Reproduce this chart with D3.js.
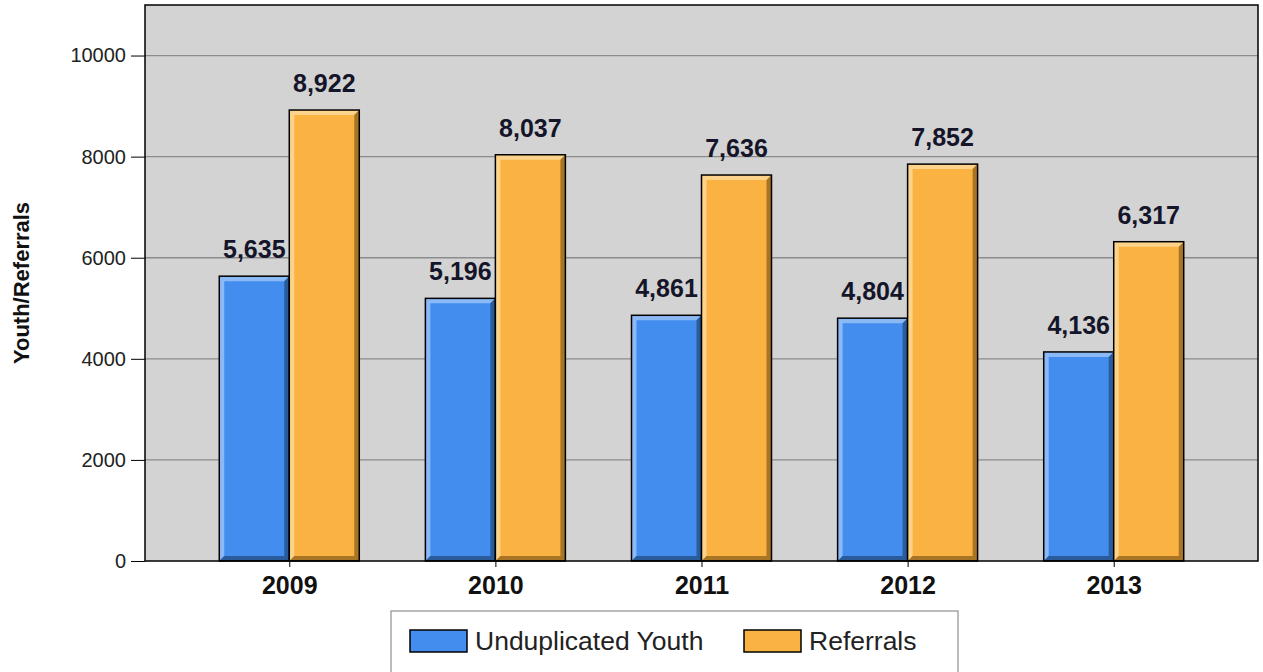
<!DOCTYPE html>
<html>
<head>
<meta charset="utf-8">
<script src="https://cdn.jsdelivr.net/npm/d3@7"></script>
<style>
  body { margin: 0; background: #fff; }
  svg { display: block; font-family: Arial, "Liberation Sans", sans-serif; }
</style>
</head>
<body>
<svg id="chart" width="1263" height="672"></svg>
<script>
const years = ["2009", "2010", "2011", "2012", "2013"];
const youth = [5635, 5196, 4861, 4804, 4136];
const referrals = [8922, 8037, 7636, 7852, 6317];
const seriesNames = ["Unduplicated Youth", "Referrals"];
const yTicks = [0, 2000, 4000, 6000, 8000, 10000];

const colors = [
  { fill: "#428ded", light: "#8ab9f5", dark: "#2a5c9c" },
  { fill: "#fab342", light: "#fdd38c", dark: "#a87426" }
];

const font = "Arial, 'Liberation Sans', sans-serif";
const svg = d3.select("#chart");
const plot = { left: 145, right: 1258, top: 5, bottom: 561 };

const x = d3.scalePoint().domain(years).range([plot.left, plot.right]).padding(0.7);
const y = d3.scaleLinear().domain([0, 11000]).range([plot.bottom, plot.top]);
const barW = 70;

// plot background
svg.append("rect")
  .attr("x", plot.left).attr("y", plot.top)
  .attr("width", plot.right - plot.left).attr("height", plot.bottom - plot.top)
  .attr("fill", "#d3d3d3");

// gridlines
svg.append("g").selectAll("line")
  .data(yTicks.filter(d => d > 0))
  .join("line")
  .attr("x1", plot.left).attr("x2", plot.right)
  .attr("y1", d => y(d)).attr("y2", d => y(d))
  .attr("stroke", "#8c8c8c").attr("stroke-width", 1.3);

// bars
const data = [];
years.forEach((yr, i) => {
  data.push({ year: yr, s: 0, value: youth[i] });
  data.push({ year: yr, s: 1, value: referrals[i] });
});

const bev = 5;
const bar = svg.append("g").selectAll("g")
  .data(data)
  .join("g")
  .attr("transform", d => `translate(${x(d.year) + (d.s === 0 ? -barW : 0)},${y(d.value)})`);

bar.each(function (d) {
  const g = d3.select(this);
  const h = plot.bottom - y(d.value);
  const c = colors[d.s];
  g.append("rect").attr("width", barW).attr("height", h).attr("fill", c.fill);
  // light bevel, top and left
  g.append("polygon")
    .attr("points", `0,0 ${barW},0 ${barW - bev},${bev} ${bev},${bev} ${bev},${h - bev} 0,${h}`)
    .attr("fill", c.light);
  // dark bevel, right and bottom
  g.append("polygon")
    .attr("points", `${barW},0 ${barW},${h} 0,${h} ${bev},${h - bev} ${barW - bev},${h - bev} ${barW - bev},${bev}`)
    .attr("fill", c.dark);
  g.append("rect").attr("width", barW).attr("height", h)
    .attr("fill", "none").attr("stroke", "#000").attr("stroke-width", 1.5);
  g.append("text")
    .attr("x", barW / 2).attr("y", -18)
    .attr("text-anchor", "middle")
    .attr("font-size", 25).attr("font-weight", "bold").attr("fill", "#15152a")
    .text(d3.format(",")(d.value));
});

// plot border
svg.append("rect")
  .attr("x", plot.left).attr("y", plot.top)
  .attr("width", plot.right - plot.left).attr("height", plot.bottom - plot.top)
  .attr("fill", "none").attr("stroke", "#000").attr("stroke-width", 1.5);

// y axis
const yAxis = svg.append("g")
  .attr("transform", `translate(${plot.left},0)`)
  .call(d3.axisLeft(y).tickValues(yTicks).tickSize(14).tickPadding(5).tickFormat(d3.format("d")));
yAxis.select(".domain").remove();
yAxis.selectAll("text").attr("font-size", 20).attr("fill", "#222").attr("font-family", font);
yAxis.selectAll("line").attr("stroke", "#000");

// x axis
const xAxis = svg.append("g")
  .attr("transform", `translate(0,${plot.bottom})`)
  .call(d3.axisBottom(x).tickSize(6).tickPadding(9));
xAxis.select(".domain").remove();
xAxis.selectAll("text").attr("font-size", 25).attr("font-weight", "bold").attr("fill", "#111")
  .attr("font-family", font);
xAxis.selectAll("line").attr("stroke", "#000");

// y title
svg.append("text")
  .attr("transform", `translate(29,${(plot.top + plot.bottom) / 2}) rotate(-90)`)
  .attr("text-anchor", "middle")
  .attr("font-size", 22).attr("font-weight", "bold").attr("fill", "#111")
  .text("Youth/Referrals");

// legend
const legend = svg.append("g");
legend.append("rect")
  .attr("x", 391).attr("y", 611).attr("width", 567).attr("height", 70)
  .attr("fill", "#fff").attr("stroke", "#999").attr("stroke-width", 1.3);
const legX = [410, 744];
seriesNames.forEach((name, i) => {
  legend.append("rect")
    .attr("x", legX[i]).attr("y", 630).attr("width", 57).attr("height", 22)
    .attr("fill", colors[i].fill).attr("stroke", "#000").attr("stroke-width", 1.5);
  legend.append("text")
    .attr("x", legX[i] + 65).attr("y", 650)
    .attr("font-size", 26.5).attr("fill", "#222")
    .text(name);
});
</script>
</body>
</html>
